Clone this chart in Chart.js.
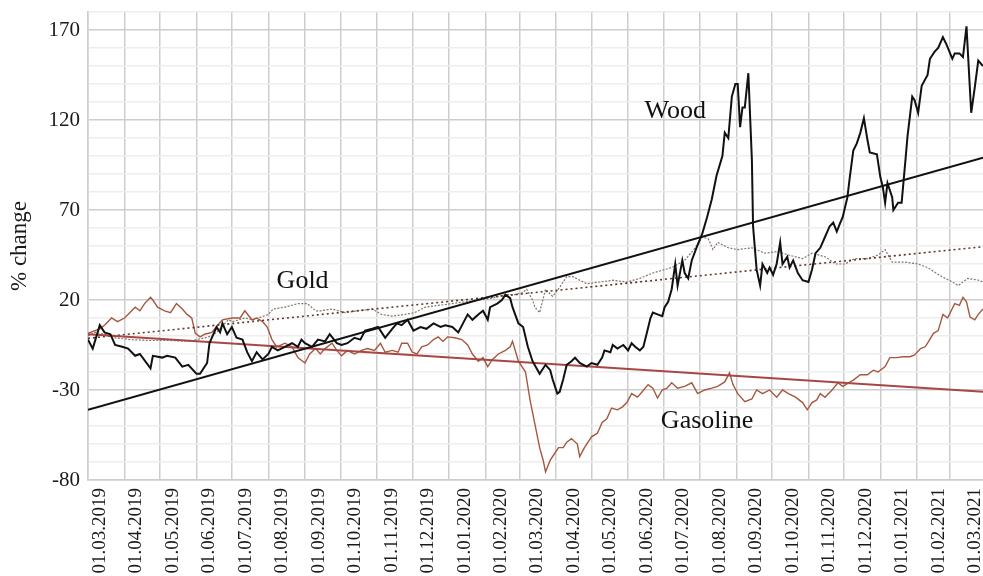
<!DOCTYPE html>
<html>
<head>
<meta charset="utf-8">
<title>% change</title>
<script src="https://cdn.jsdelivr.net/npm/chart.js@4.4.1/dist/chart.umd.min.js"></script>
<style>
  html, body { margin: 0; padding: 0; background: #fff; }
  #chart { display: block; }
</style>
</head>
<body>
<canvas id="chart" width="983" height="576"></canvas>
<script>
// ── Data (x = days since 01.03.2019, y = % change) ───────────
const monthLabels = [
  '01.03.2019', '01.04.2019', '01.05.2019', '01.06.2019', '01.07.2019',
  '01.08.2019', '01.09.2019', '01.10.2019', '01.11.2019', '01.12.2019',
  '01.01.2020', '01.02.2020', '01.03.2020', '01.04.2020', '01.05.2020',
  '01.06.2020', '01.07.2020', '01.08.2020', '01.09.2020', '01.10.2020',
  '01.11.2020', '01.12.2020', '01.01.2021', '01.02.2021', '01.03.2021'
];

const woodDays = [
  0, 4, 10, 14, 19, 23, 29, 34, 40, 44, 53, 55, 63, 67, 74, 80, 85, 92, 95, 101,
  103, 109, 112, 114, 118, 122, 126, 131, 135, 139, 143, 148, 153, 156, 161, 167, 173, 178, 181, 184,
  190, 195, 201, 205, 211, 215, 220, 226, 231, 235, 241, 246, 252, 258, 262, 266, 271, 276, 282, 287,
  293, 299, 303, 309, 314, 318, 322, 326, 331, 335, 339, 341, 347, 351, 354, 358, 360, 365, 369, 373,
  377, 383, 388, 392, 394, 398, 400, 403, 406, 410, 413, 417, 423, 427, 432, 436, 438, 443, 445, 449,
  454, 458, 461, 464, 468, 471, 474, 477, 479, 483, 487, 489, 492, 495, 498, 500, 504, 506, 509, 512,
  516, 521, 525, 529, 533, 538, 540, 543, 546, 549, 551, 553, 555, 557, 560, 563, 564, 567, 570, 572,
  576, 578, 581, 584, 587, 589, 593, 595, 598, 602, 606, 611, 614, 617, 621, 625, 629, 632, 635, 638,
  640, 644, 646, 649, 652, 655, 658, 661, 663, 669, 672, 674, 676, 678, 682, 683, 687, 690, 693, 695,
  699, 701, 704, 707, 712, 714, 718, 721, 725, 728, 733, 735, 739, 742, 745, 749, 752, 755, 759
];
const woodValues = [
  -2, -7, 6, 2, 1, -5, -6, -7, -11, -10, -18, -11, -12, -11, -12, -17, -16, -21, -21, -15,
  -4, 5, 2, 7, 1, 5, -1, -2, -9, -14, -9, -13, -10, -6, -8, -6, -4, -6, -2, -4,
  -6, -2, -3, 1, -4, -5, -4, -1, -2, 3, 4, 5, -1, 4, 7, 6, 9, 3, 5, 4,
  7, 5, 6, 5, 2, 7, 12, 9, 12, 14, 9, 16, 18, 20, 23, 21, 16, 7, 5, -6,
  -14, -21, -16, -19, -24, -32, -31, -24, -16, -14, -12, -15, -17, -15, -16, -12, -8, -9, -5, -7,
  -5, -8, -4, -6, -8, -6, 2, 10, 13, 12, 11, 16, 19, 26, 40, 28, 42, 35, 32, 42,
  49, 57, 66, 76, 89, 100, 113, 110, 133, 140, 140, 116, 127, 127, 146, 98, 61, 37, 28, 40,
  35, 38, 34, 40, 52, 40, 44, 38, 42, 35, 31, 30, 37, 46, 49, 55, 61, 63, 58, 63,
  66, 77, 88, 103, 107, 113, 121, 109, 102, 101, 88, 83, 74, 85, 77, 70, 74, 74, 96, 111,
  133, 131, 124, 139, 145, 154, 158, 160, 166, 162, 154, 157, 157, 155, 172, 124, 138, 153, 150
];

const goldDays = [
  0, 6, 14, 23, 36, 53, 70, 87, 92, 99, 105, 109, 119, 123, 133, 140, 153, 157, 167, 178,
  186, 193, 197, 207, 218, 229, 241, 249, 258, 269, 277, 286, 297, 309, 320, 331, 343, 354, 362, 368,
  372, 377, 379, 383, 388, 394, 400, 406, 411, 423, 434, 445, 457, 468, 479, 495, 506, 515, 521, 526,
  530, 534, 543, 551, 563, 574, 585, 594, 606, 614, 625, 634, 642, 650, 661, 670, 676, 682, 693, 704,
  712, 724, 733, 738, 746, 755, 759
];
const goldValues = [
  0, 2, 1, -1, -2, -2.5, -2.5, -3, -2, -1, 0, 2, 9, 8, 10, 9, 12, 15, 16, 18,
  18, 14, 14, 15, 13, 14, 15, 12, 11, 12, 13, 16, 17, 18, 19, 20, 21, 23, 23, 24,
  26, 20, 16, 13, 26, 22, 27, 33, 33, 29, 30, 31, 30, 32, 35, 38, 42, 49, 55, 54,
  48, 52, 49, 48, 49, 46, 47, 45, 43, 46, 44, 40, 40, 43, 43, 45, 48, 41, 41, 40,
  38, 33, 30, 28, 32, 31, 30
];

const gasolineDays = [
  0, 10, 14, 20, 25, 31, 40, 44, 48, 53, 55, 59, 65, 70, 75, 80, 84, 88, 91, 95,
  99, 105, 110, 114, 122, 129, 133, 139, 143, 148, 152, 156, 160, 167, 173, 178, 184, 188, 193, 197,
  201, 207, 211, 215, 220, 226, 232, 237, 243, 248, 252, 258, 263, 266, 271, 275, 279, 283, 288, 293,
  297, 301, 305, 311, 317, 322, 326, 331, 335, 339, 343, 348, 354, 358, 360, 365, 371, 375, 379, 383,
  386, 388, 392, 396, 399, 403, 406, 410, 415, 417, 421, 427, 432, 436, 440, 444, 449, 453, 457, 461,
  466, 470, 475, 479, 483, 487, 491, 495, 500, 506, 512, 517, 523, 529, 534, 540, 544, 547, 551, 557,
  563, 567, 572, 578, 584, 589, 594, 600, 606, 610, 614, 618, 621, 625, 631, 636, 640, 645, 649, 655,
  661, 666, 670, 676, 680, 686, 691, 697, 701, 706, 710, 712, 717, 721, 725, 729, 735, 739, 742, 745,
  748, 752, 755, 759
];
const gasolineValues = [
  1.5, 4, 6, 10, 8, 10, 16, 14, 18, 21.5, 20, 16, 14, 13, 18, 15, 12, 10, 1.5, -0.5,
  1, 2, 6, 9, 10, 10, 14, 9, 10, 8, 5, -2, -6, -4, -6, -12, -15, -10, -7, -10,
  -7, -4, -8, -11, -8, -10, -8, -7, -8, -4, -9, -8, -9, -4, -4, -9, -10, -6, -5, -2,
  -0.5, -3, -0.5, -1, -2, -5, -10, -14, -12, -17, -13, -10, -8, -6, -3, -14, -20, -36, -49, -62,
  -69, -75.5, -69, -65, -62, -62, -59, -57, -60, -67, -62, -56, -54, -48, -46, -40, -41, -39.5, -37, -32,
  -34, -31, -27, -29, -34.5, -30, -29, -26, -29, -28, -26, -32, -30, -29, -28, -25.5, -20.5, -27, -32, -36.5,
  -35, -30, -32, -30, -34, -30, -32, -34, -37, -41, -37, -35.5, -32, -34, -30, -26, -28, -26, -24.5, -21.5,
  -21.5, -19, -20, -17, -12, -12, -11.5, -11.5, -10.5, -7, -6, -4, 1.5, 3, 12, 10, 18, 17, 21.5, 19,
  10.5, 9, 12, 15
];

// linear trend lines (start / end of the period)
const trendDays = [0, 759];
const woodTrend = [-41, 99];
const goldTrend = [-1.3, 49.6];
const gasolineTrend = [1, -31];

// series names written on the plot, anchored in data units
const seriesNames = ['Wood', 'Gold', 'Gasoline'];
const nameAnchors = [{ x: 498, y: 121 }, { x: 182, y: 26.7 }, { x: 525, y: -51 }];

// ── Helpers ──────────────────────────────────────────────────
const DAY_MS = 86400000;
const START = Date.UTC(2019, 2, 1);
const monthDays = monthLabels.map(l => {
  const [d, m, y] = l.split('.').map(Number);
  return Math.round((Date.UTC(y, m - 1, d) - START) / DAY_MS);
});
const toPoints = (days, vals) => days.map((d, i) => ({ x: d, y: vals[i] }));

const SERIF = "'Liberation Serif', 'Times New Roman', serif";
const GRID_MAJOR = '#cdcdcd';
const GRID_MINOR = '#ededed';

const lineStyle = (color, width, dash) => ({
  borderColor: color,
  borderWidth: width,
  borderDash: dash || [],
  pointRadius: 0,
  tension: 0,
  fill: false
});

// ── Series name labels plugin ────────────────────────────────
const seriesNamePlugin = {
  id: 'seriesNames',
  afterDatasetsDraw(chart) {
    const { ctx, scales: { x, y } } = chart;
    ctx.save();
    ctx.font = `26px ${SERIF}`;
    ctx.fillStyle = '#111';
    ctx.textAlign = 'center';
    ctx.textBaseline = 'alphabetic';
    seriesNames.forEach((name, i) => {
      ctx.fillText(name, x.getPixelForValue(nameAnchors[i].x), y.getPixelForValue(nameAnchors[i].y));
    });
    ctx.restore();
  }
};

// ── Chart ────────────────────────────────────────────────────
new Chart(document.getElementById('chart').getContext('2d'), {
  type: 'line',
  data: {
    datasets: [
      { label: 'Wood', data: toPoints(woodDays, woodValues), ...lineStyle('#111111', 2) },
      { label: 'Wood trend', data: toPoints(trendDays, woodTrend), ...lineStyle('#111111', 2) },
      { label: 'Gasoline trend', data: toPoints(trendDays, gasolineTrend), ...lineStyle('#a84646', 2) },
      { label: 'Gold trend', data: toPoints(trendDays, goldTrend), ...lineStyle('#5e3628', 1.6, [2, 3]) },
      { label: 'Gasoline', data: toPoints(gasolineDays, gasolineValues), ...lineStyle('#a5583f', 1.4) },
      { label: 'Gold', data: toPoints(goldDays, goldValues), ...lineStyle('#85756c', 1.2, [2, 1.5]) }
    ]
  },
  options: {
    responsive: false,
    animation: false,
    devicePixelRatio: 1,
    layout: { padding: { top: 12, right: 0, bottom: 0, left: 0 } },
    plugins: { legend: { display: false }, tooltip: { enabled: false } },
    scales: {
      x: {
        type: 'linear',
        position: 'bottom',
        min: 0,
        max: 759,
        afterBuildTicks: s => { s.ticks = monthDays.map(v => ({ value: v })); },
        afterFit: s => { s.height = 0; s.paddingLeft = 0; s.paddingRight = 0; },
        ticks: { display: false },
        grid: { color: GRID_MAJOR, lineWidth: 1.5, drawTicks: false },
        border: { color: GRID_MAJOR, width: 1.5 }
      },
      xl: {
        type: 'linear',
        position: 'bottom',
        min: -0.33,
        max: 24.22,
        afterBuildTicks: s => { s.ticks = monthLabels.map((_, i) => ({ value: i })); },
        afterFit: s => { s.height = 96; s.paddingLeft = 0; s.paddingRight = 0; },
        grid: { display: false, drawTicks: false },
        border: { display: false },
        ticks: {
          autoSkip: false,
          maxRotation: 90,
          minRotation: 90,
          padding: 8,
          color: '#1a1a1a',
          font: { family: SERIF, size: 19 },
          callback: v => monthLabels[v]
        }
      },
      y: {
        min: -80,
        max: 180,
        afterFit: s => { s.width = 88; s.paddingTop = 0; s.paddingBottom = 0; },
        ticks: {
          stepSize: 10,
          autoSkip: false,
          padding: 8,
          color: '#1a1a1a',
          font: { family: SERIF, size: 21 },
          callback: v => ((v + 80) % 50 === 0 ? String(v) : '')
        },
        grid: {
          drawTicks: false,
          lineWidth: 1.5,
          color: c => ((c.tick.value + 80) % 50 === 0 ? GRID_MAJOR : GRID_MINOR)
        },
        border: { color: GRID_MAJOR, width: 1.5 },
        title: {
          display: true,
          text: '% change',
          color: '#1a1a1a',
          font: { family: SERIF, size: 23 },
          padding: { top: 6, bottom: 0 }
        }
      }
    }
  },
  plugins: [seriesNamePlugin]
});
</script>
</body>
</html>
